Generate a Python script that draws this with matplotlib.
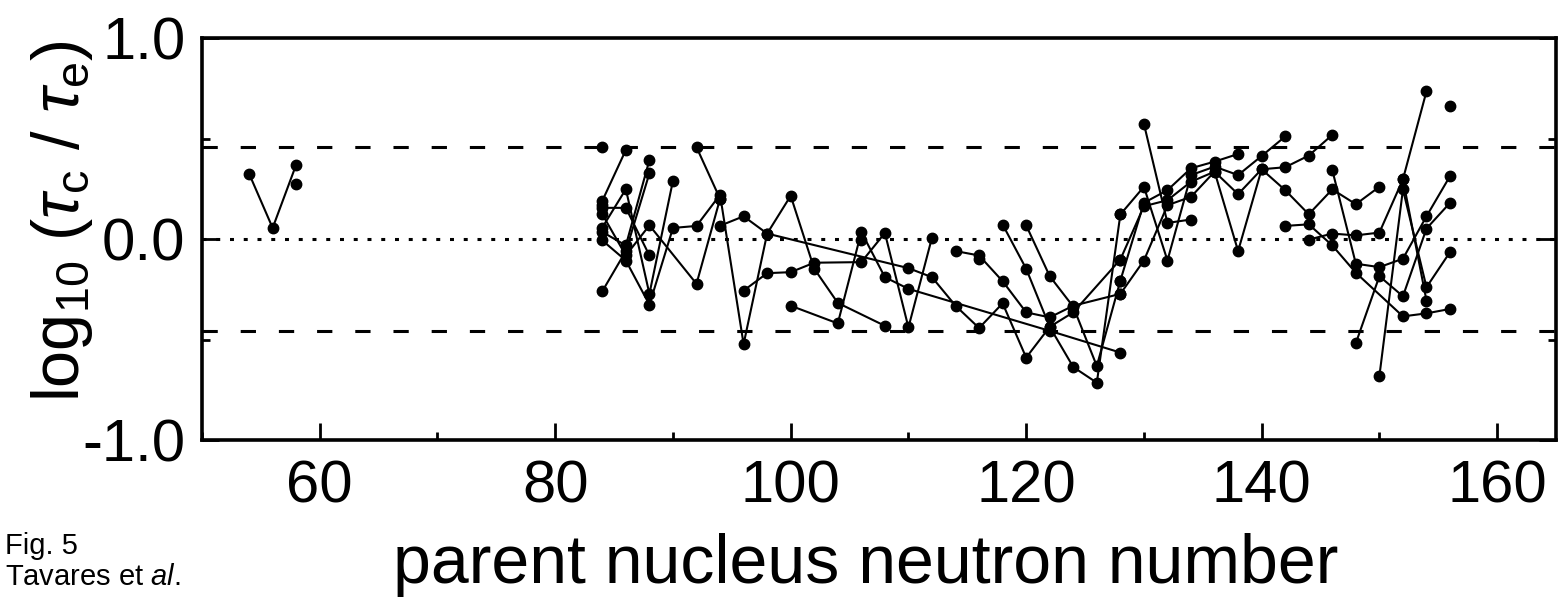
import matplotlib
matplotlib.use('Agg')
import matplotlib.pyplot as plt
from matplotlib.ticker import MultipleLocator

plt.rcParams['font.family'] = 'Liberation Sans'
plt.rcParams['mathtext.fontset'] = 'custom'
plt.rcParams['mathtext.rm'] = 'Liberation Sans'
plt.rcParams['mathtext.it'] = 'Liberation Sans:italic'

# isotopic chains: neutron number, log10(tau_c/tau_e)
c01 = ([54, 56, 58], [0.325, 0.055, 0.37])
c02 = ([58], [0.275])
c03 = ([84], [0.46])
c04 = ([84, 86], [0.19, 0.443])
c05 = ([84], [0.168])
c06 = ([84, 86, 88], [0.155, 0.155, -0.082])
c07 = ([84, 86, 88, 90], [0.057, 0.248, -0.273, 0.29])
c08 = ([84, 86, 88], [0.035, -0.032, 0.393])
c09 = ([84, 86, 88], [-0.26, -0.06, 0.327])
c10 = ([84, 86, 88, 90, 92, 94, 96, 98, 100, 102, 104, 108],
       [-0.007, -0.107, -0.327, 0.055, 0.065, 0.22, -0.523, 0.027, 0.215, -0.148, -0.318, -0.432])
c11 = ([84, 86, 88, 92, 94], [0.123, -0.082, 0.068, -0.223, 0.2])
c12 = ([92, 94], [0.457, 0.2])
c13 = ([94, 96, 98, 110, 112, 114, 116, 118, 120, 122, 124, 128],
       [0.066, 0.113, 0.027, -0.145, -0.19, -0.332, -0.443, -0.32, -0.59, -0.437, -0.365, -0.102])
c14 = ([96, 98, 100, 102, 106, 108, 110, 112],
       [-0.257, -0.17, -0.165, -0.118, -0.115, 0.03, -0.44, 0.007])
c15 = ([100, 104, 106, 108, 110, 122, 128], [-0.332, -0.42, 0.035, -0.19, -0.248, -0.457, -0.565])
c16 = ([106], [-0.007])
c17 = ([114, 116, 118, 120, 122, 124, 128], [-0.06, -0.082, -0.21, -0.365, -0.39, -0.332, -0.273])
c18 = ([116], [-0.098])
c19 = ([118, 120, 122, 124, 126, 128], [0.072, -0.148, -0.437, -0.637, -0.715, 0.122])
c20 = ([120, 122, 124, 126, 128], [0.068, -0.185, -0.337, -0.632, -0.207])
c21 = ([128, 130, 132, 134, 136, 138, 140, 142], [0.122, 0.26, -0.107, 0.318, 0.36, 0.318, 0.413, 0.51])
c22 = ([128, 130, 132, 134, 136, 138, 140, 142, 144, 146],
       [-0.102, 0.163, 0.193, 0.285, 0.335, -0.06, 0.347, 0.357, 0.415, 0.518])
c23 = ([128, 130, 132, 134, 136, 138], [-0.207, 0.18, 0.243, 0.352, 0.385, 0.423])
c24 = ([128, 130, 132, 134, 136, 138, 140, 142, 144, 146, 148, 150],
       [-0.273, -0.107, 0.168, 0.21, 0.335, 0.223, 0.347, 0.243, 0.123, 0.247, 0.173, 0.26])
c25 = ([130, 132, 134], [0.573, 0.08, 0.097])
c26 = ([142, 144, 146, 148, 152, 154, 156], [0.065, 0.073, -0.032, -0.168, -0.385, -0.37, -0.348])
c27 = ([144, 146, 148, 150, 152, 154], [-0.003, 0.027, 0.018, 0.032, 0.297, 0.735])
c28 = ([146, 148, 150, 152, 154, 156], [0.343, -0.123, -0.14, -0.098, 0.113, 0.313])
c29 = ([148, 150, 152, 154, 156], [-0.518, -0.185, -0.285, 0.052, 0.18])
c30 = ([150, 152, 154, 156], [-0.682, 0.247, -0.24, -0.065])
c31 = ([152, 154], [0.297, -0.307])
c32 = ([156], [0.66])

chains = [c01, c02, c03, c04, c05, c06, c07, c08, c09, c10, c11, c12, c13, c14, c15, c16,
          c17, c18, c19, c20, c21, c22, c23, c24, c25, c26, c27, c28, c29, c30, c31, c32]

rms_band = 0.46  # dashed lines

fig = plt.figure(figsize=(15.59, 6.06), dpi=100)
ax = fig.add_axes([202/1559, 1 - 440/606, (1556 - 202)/1559, (440 - 38)/606])

ax.axhline(0, color='k', lw=2.2, dashes=(1.3, 3.2), dash_capstyle='butt')
ax.axhline(rms_band, color='k', lw=2.2, dashes=(5, 7.5))
ax.axhline(-rms_band, color='k', lw=2.2, dashes=(5, 7.5))

for n, v in chains:
    ax.plot(n, v, '-o', color='k', lw=1.5, ms=7.5)

ax.set_xlim(50, 165)
ax.set_ylim(-1, 1)
ax.xaxis.set_major_locator(MultipleLocator(20))
ax.xaxis.set_minor_locator(MultipleLocator(10))
ax.yaxis.set_major_locator(MultipleLocator(1))
ax.yaxis.set_minor_locator(MultipleLocator(0.5))
ax.yaxis.set_major_formatter(matplotlib.ticker.FormatStrFormatter('%.1f'))
ax.tick_params(which='both', direction='in', right=True, width=2, labelsize=43)
ax.tick_params(which='major', length=12)
ax.tick_params(which='minor', length=6)
ax.tick_params(axis='y', pad=12)
ax.tick_params(axis='x', pad=14)
for s in ax.spines.values():
    s.set_linewidth(2.6)

fig.text(0.04, 0.635, r'log$_{10}$ ($\tau_{\rm c}$ / $\tau_{\rm e}$)', rotation=90,
         ha='center', va='center', fontsize=48)
fig.text(0.555, 0.038, 'parent nucleus neutron number', ha='center', va='baseline',
         fontsize=49)
fig.text(0.003, 0.086, 'Fig. 5', ha='left', va='baseline', fontsize=21)
fig.text(0.003, 0.035, r'Tavares et $\it{al.}$', ha='left', va='baseline', fontsize=21)

fig.savefig('out.png', dpi=100)
